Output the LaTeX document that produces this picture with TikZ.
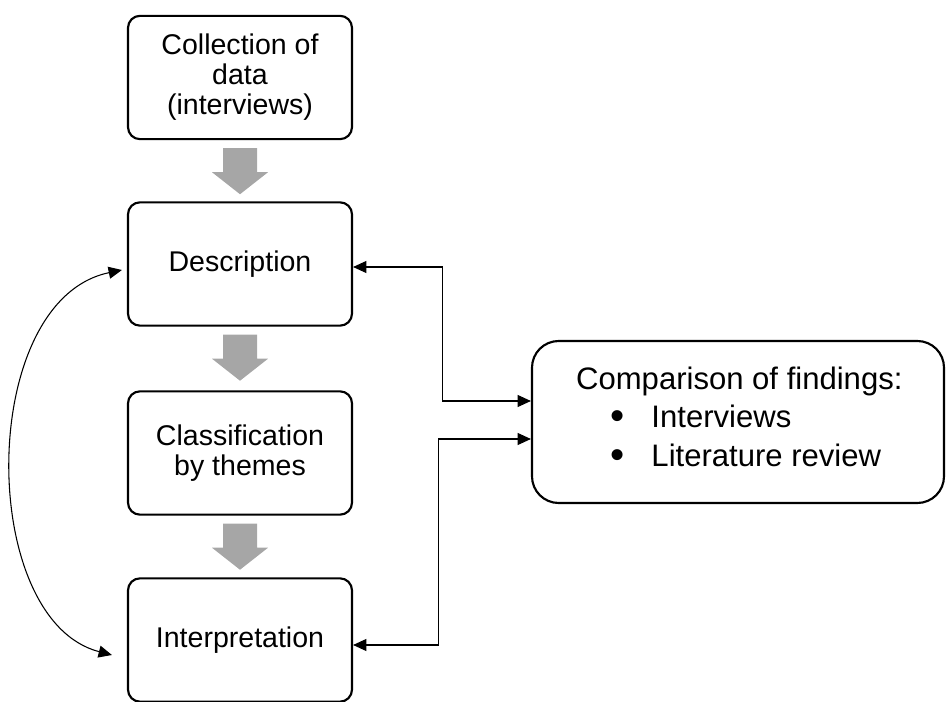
\documentclass[tikz,border=0pt]{standalone}
\usepackage{fontspec}
\setmainfont{Liberation Sans}
\usetikzlibrary{arrows.meta,calc}
\definecolor{arrowgray}{RGB}{166,166,166}
\newcommand{\blockarrow}[1]{%
  \fill[blockfill] ([shift={(-17,8)}]#1.south) -- ([shift={(17,8)}]#1.south)
    -- ([shift={(17,32)}]#1.south) -- ([shift={(28,32)}]#1.south)
    -- ([shift={(0,54)}]#1.south) -- ([shift={(-28,32)}]#1.south)
    -- ([shift={(-17,32)}]#1.south) -- cycle;}
\newcommand{\bigbullet}{\raisebox{-1.2pt}{\scalebox{1.3}{\textbullet}}}
\begin{document}
\begin{tikzpicture}[x=0.75pt,y=-0.75pt,
  stepbox/.style={draw, line width=1.6pt, rounded corners=9pt,
    minimum width=168pt, minimum height=92.5pt, align=center, inner sep=0pt,
    font=\fontsize{21.4pt}{22.5pt}\selectfont},
  findbox/.style={draw, line width=1.6pt, rounded corners=20pt,
    minimum width=309pt, minimum height=121.5pt, align=left, inner sep=0pt,
    font=\fontsize{23.3pt}{29pt}\selectfont},
  blockfill/.style={fill=arrowgray},
  conn/.style={line width=0.8pt,
    {Triangle[length=10pt,width=9pt]}-{Triangle[length=10pt,width=9pt]}},
  ]
\useasboundingbox (0,0) rectangle (946,702);
\node[stepbox] (coll) at (240,77.5) {Collection of\\data\\(interviews)};
\node[stepbox] (desc) at (240,264) {Description};
\node[stepbox] (class) at (240,453) {Classification\\by themes};
\node[stepbox] (interp) at (240,640) {Interpretation};
\node[findbox] (comp) at (738,422) {\hspace*{2pt}Comparison of findings:\\
  \hspace*{28pt}\makebox[30.5pt][l]{\bigbullet}Interviews\\
  \hspace*{28pt}\makebox[30.5pt][l]{\bigbullet}Literature review\rule[-8pt]{0pt}{8pt}};
\blockarrow{coll}
\blockarrow{desc}
\blockarrow{class}
\draw[conn] ([shift={(0,-21)}]comp.west) -- ++(-88,0) |- ([shift={(0,3)}]desc.east);
\draw[conn] ([shift={(0,17)}]comp.west) -- ++(-92,0) |- ([shift={(0,5)}]interp.east);
\draw[conn] ([shift={(-5,6)}]desc.west) .. controls (-23,300) and (-23,620) .. ([shift={(-15,15)}]interp.west);
\end{tikzpicture}
\end{document}
